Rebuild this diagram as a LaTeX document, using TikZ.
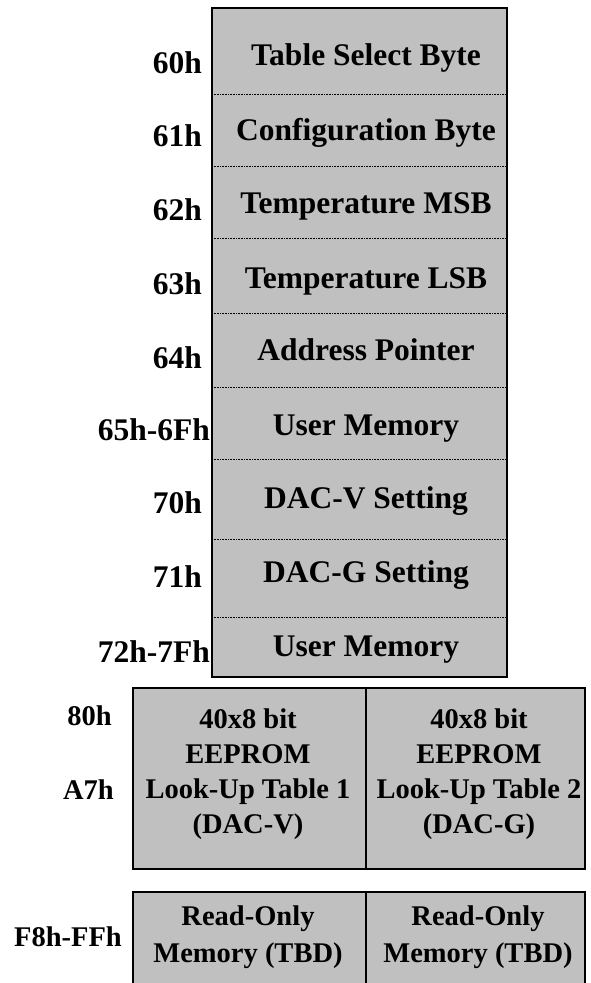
\documentclass[tikz,border=0pt]{standalone}
\usepackage{fontspec}
\setmainfont{Liberation Serif}
\usepackage{xcolor}
\usepackage{tikz}
\definecolor{cellGray}{HTML}{C0C0C0}
\newcommand{\mapLeft}{212}
\newcommand{\mapRight}{507}
\newcommand{\mapTop}{8}
\newcommand{\mapBottom}{677}
\newcommand{\mapTextX}{366}
\newcommand{\tableLeft}{133}
\newcommand{\tableSplit}{366}
\newcommand{\tableRight}{585}
\newcommand{\bigFont}{\fontsize{31.5}{34}\selectfont\bfseries}
\newcommand{\smallFont}{\fontsize{28.5}{35}\selectfont\bfseries}
\newcommand{\romFont}{\fontsize{28.5}{37}\selectfont\bfseries}
\newcommand{\rowLines}{94, 166, 238, 313, 387, 459, 539, 617}
\newcommand{\rowNames}{0/65/Table Select Byte, 1/140/Configuration Byte, 2/213/Temperature MSB, 3/288/Temperature LSB, 4/360/Address Pointer, 5/435/User Memory, 6/508/DAC-V Setting, 7/582/DAC-G Setting, 8/656/User Memory}
\newcommand{\rowAddresses}{0/73/202/60h, 1/146/202/61h, 2/220/202/62h, 3/294/202/63h, 4/368/202/64h, 5/440/210/65h-6Fh, 6/513/202/70h, 7/587/202/71h, 8/662/210/72h-7Fh}

\begin{document}
\begin{tikzpicture}[x=1pt, y=-1pt]
	\useasboundingbox (0,0) rectangle (590,983);
	
		% register block 60h up to 7Fh
		\fill[cellGray] (\mapLeft,\mapTop) rectangle (\mapRight,\mapBottom);
		\foreach \lineY in \rowLines
		{
			\draw[line width=1pt, dash pattern=on 1pt off 0.6pt] (\mapLeft,\lineY) -- (\mapRight,\lineY);
		}
		\draw[line width=1.5pt] (\mapLeft,\mapTop) rectangle (\mapRight,\mapBottom);
		\foreach \rowNumber/\baseY/\name in \rowNames
		{
			\node[anchor=base, inner sep=0pt, font=\bigFont] (row\rowNumber) at (\mapTextX,\baseY) {\name};
		}
		\foreach \rowNumber/\baseY/\rightX/\name in \rowAddresses
		{
			\node[anchor=base east, inner sep=0pt, font=\bigFont] (addr\rowNumber) at (\rightX,\baseY) {\name};
		}
		
		% look-up tables 80h up to A7h (base = last line)
		\begin{scope}[line width=1.5pt]
			\draw[fill=cellGray] (\tableLeft,688) rectangle (\tableRight,869);
			\draw (\tableSplit,688) -- (\tableSplit,869);
		\end{scope}
		\node[anchor=base, align=center, inner sep=0pt, font=\smallFont] (lutV) at (248,833) {40x8 bit\\EEPROM\\Look-Up Table 1\\(DAC-V)};
		\node[anchor=base, align=center, inner sep=0pt, font=\smallFont] (lutG) at (479,833) {40x8 bit\\EEPROM\\Look-Up Table 2\\(DAC-G)};
		\node[anchor=base east, inner sep=0pt, font=\smallFont] (addrLutTop) at (112,725) {80h};
		\node[anchor=base east, inner sep=0pt, font=\smallFont] (addrLutEnd) at (114,799) {A7h};
		
		% read-only part, runs off the page
		\begin{scope}[line width=1.5pt]
			\fill[cellGray] (\tableLeft,892) rectangle (\tableRight,990);
			\draw (\tableLeft,990) -- (\tableLeft,892) -- (\tableRight,892) -- (\tableRight,990);
			\draw (\tableSplit,892) -- (\tableSplit,990);
		\end{scope}
		\node[anchor=base, align=center, inner sep=0pt, font=\romFont] (romLeft) at (248,962) {Read-Only\\Memory (TBD)};
		\node[anchor=base, align=center, inner sep=0pt, font=\romFont] (romRight) at (478,962) {Read-Only\\Memory (TBD)};
		\node[anchor=base east, inner sep=0pt, font=\smallFont] (addrRom) at (122,946) {F8h-FFh};
	\end{tikzpicture}
\end{document}
